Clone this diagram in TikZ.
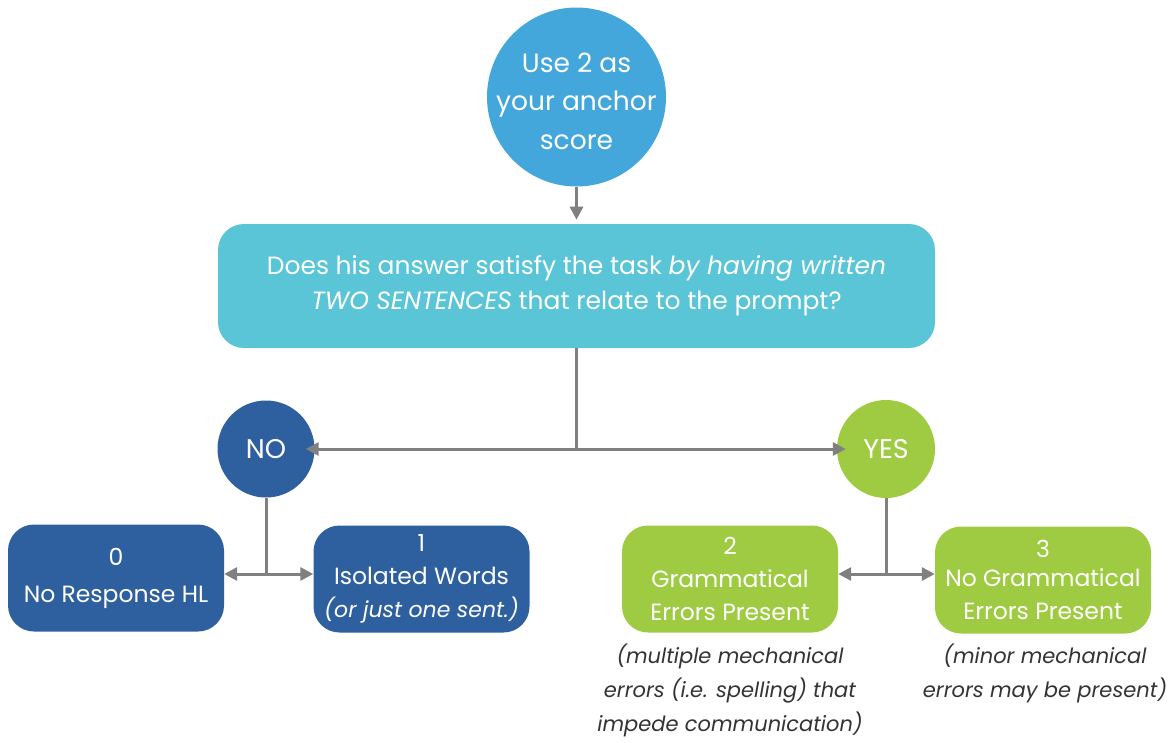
\documentclass[tikz,border=0pt]{standalone}
\usepackage{fontspec}
\setmainfont{Poppins}
\usetikzlibrary{arrows.meta}
\definecolor{topblue}{HTML}{44A7DC}
\definecolor{teal}{HTML}{5AC5D6}
\definecolor{navy}{HTML}{2E5F9F}
\definecolor{lime}{HTML}{9FCB43}
\definecolor{arrowgray}{HTML}{808080}
\definecolor{notegray}{HTML}{333333}
\tikzset{
  conn/.style={draw=arrowgray, line width=3pt},
  tip/.style={-{Triangle[length=13pt,width=13pt]}},
  circ/.style={circle, text=white, inner sep=0pt, align=center},
  boxn/.style={rectangle, rounded corners=26pt, text=white, align=center, inner sep=0pt,
     minimum width=216pt, minimum height=107pt},
  note/.style={text=notegray, align=center, font=\fontsize{21}{34}\selectfont\itshape}
}
\begin{document}
\begin{tikzpicture}[x=1pt,y=-1pt]
\useasboundingbox (0,0) rectangle (1173,742);
\node[circ, fill=topblue, minimum size=179pt] (top) at (576.5,97) {};
\node[align=center, text=white, font=\fontsize{26.5}{38.5}\selectfont] (toptext) at (576.5,101) {Use 2 as\\your anchor\\score};
\node[rectangle, rounded corners=26pt, fill=teal, text=white, align=center, minimum width=717pt, minimum height=124pt, inner sep=0pt,
  font=\fontsize{25}{35}\selectfont] (q) at (576.5,286) {Does his answer satisfy the task \textit{by having written}\\\textit{TWO SENTENCES} that relate to the prompt?};
\node[circ, fill=navy, minimum size=97pt, font=\fontsize{27}{28}\selectfont] (no) at (266,449) {NO};
\node[circ, fill=lime, minimum size=98pt, font=\fontsize{27}{28}\selectfont] (yes) at (886,449) {YES};
\node[boxn, fill=navy, font=\fontsize{23.5}{37}\selectfont] (b0) at (116,578) {0\\No Response HL};
\node[boxn, fill=navy, font=\fontsize{23.5}{33}\selectfont] (b1) at (421.5,579) {1\\Isolated Words\\{\fontsize{22}{33}\selectfont\textit{(or just one sent.)}}};
\node[boxn, fill=lime, font=\fontsize{23.5}{33}\selectfont] (b2) at (730,579) {2\\Grammatical\\Errors Present};
\node[boxn, fill=lime, font=\fontsize{23.5}{33}\selectfont] (b3) at (1043,580) {\raisebox{-4pt}{3}\\No Grammatical\\Errors Present};
\node[note, anchor=north] (n2) at (730,640) {(multiple mechanical\\errors (i.e. spelling) that\\impede communication)};
\node[note, anchor=north] (n3) at (1045,640) {(minor mechanical\\errors may be present)};
\coordinate (split) at (576.5,449);
\coordinate (nosplit) at (266,574);
\coordinate (yessplit) at (886,574);
\draw[conn, tip] (top.south) -- ++(0,33);
\draw[conn] (q.south) -- (split);
\draw[conn, tip] (split) -- ([xshift=-9pt]no.east);
\draw[conn, tip] (split) -- ([xshift=9pt]yes.west);
\draw[conn] (no.south) -- (nosplit);
\draw[conn, tip] (nosplit) -- (b0.east |- nosplit);
\draw[conn, tip] (nosplit) -- (b1.west |- nosplit);
\draw[conn] (yes.south) -- (yessplit);
\draw[conn, tip] (yessplit) -- (b2.east |- yessplit);
\draw[conn, tip] (yessplit) -- (b3.west |- yessplit);
\end{tikzpicture}
\end{document}
